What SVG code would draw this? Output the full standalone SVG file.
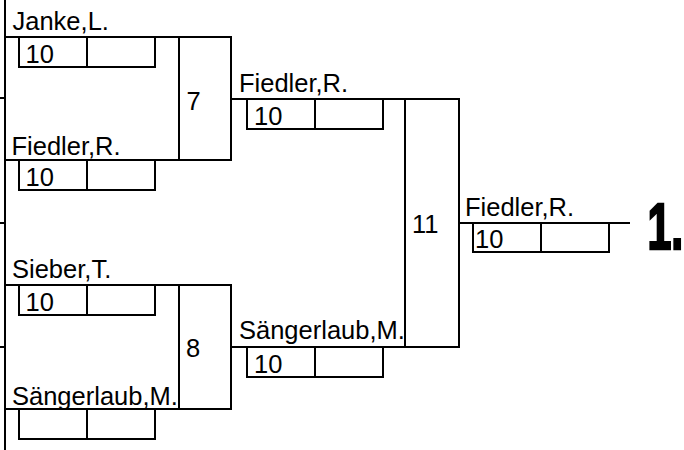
<svg xmlns="http://www.w3.org/2000/svg" width="684" height="450" viewBox="0 0 684 450">
<style>
.ln{stroke:#000;stroke-width:2;fill:none}
.bx{stroke:#000;stroke-width:2;fill:#fff}
.t{font-family:"Liberation Sans",Arial,sans-serif;font-size:25.5px;fill:#000}
.rk{font-family:"Liberation Sans",Arial,sans-serif;font-size:65px;font-weight:bold;fill:#000;stroke:#000;stroke-width:2.5}
</style>
<rect width="684" height="450" fill="#fff"/>
<g id="connectors">
<path class="ln" d="M5 0V450M0 98H5M0 223H5M0 347H5"/>
<path class="ln" d="M5 37H231M5 160H231"/>
<path class="ln" d="M5 285H231M5 409H231"/>
<path class="ln" d="M231 99H459M231 347H459"/>
<path class="ln" d="M459 223H630"/>
</g>
<g id="match7">
<rect class="bx" x="179" y="37" width="52" height="123"/>
<text class="t" x="186.5" y="109.5">7</text>
</g>
<g id="match8">
<rect class="bx" x="179" y="285" width="52" height="124"/>
<text class="t" x="186" y="357">8</text>
</g>
<g id="match11">
<rect class="bx" x="405" y="99" width="54" height="248"/>
<text class="t" x="412" y="233">11</text>
</g>
<g id="p-janke">
<text class="t" x="12.5" y="30">Janke,L.</text>
<rect class="bx" x="19" y="37" width="136" height="30"/><path class="ln" d="M87 37V67"/>
<text class="t" x="25.5" y="63">10</text>
</g>
<g id="p-fiedler1">
<text class="t" x="11.5" y="155">Fiedler,R.</text>
<rect class="bx" x="19" y="160" width="136" height="30"/><path class="ln" d="M87 160V190"/>
<text class="t" x="25.5" y="186">10</text>
</g>
<g id="p-sieber">
<text class="t" x="12" y="278">Sieber,T.</text>
<rect class="bx" x="19" y="285" width="136" height="30"/><path class="ln" d="M87 285V315"/>
<text class="t" x="25.5" y="311">10</text>
</g>
<g id="p-saengerlaub1">
<text class="t" x="12" y="405">Sängerlaub,M.</text>
<rect class="bx" x="19" y="409" width="136" height="30"/><path class="ln" d="M87 409V439"/>
</g>
<g id="p-fiedler2">
<text class="t" x="239" y="92">Fiedler,R.</text>
<rect class="bx" x="247" y="99" width="136" height="30"/><path class="ln" d="M315 99V129"/>
<text class="t" x="254" y="125">10</text>
</g>
<g id="p-saengerlaub2">
<text class="t" x="239" y="339">Sängerlaub,M.</text>
<rect class="bx" x="247" y="347" width="136" height="30"/><path class="ln" d="M315 347V377"/>
<text class="t" x="254" y="373">10</text>
</g>
<g id="p-fiedler3">
<text class="t" x="465" y="216">Fiedler,R.</text>
<rect class="bx" x="473" y="223" width="136" height="29"/><path class="ln" d="M541 223V252"/>
<text class="t" x="475" y="248">10</text>
</g>
<g id="rank">
<text class="rk" transform="matrix(0.66 0 0 1 647.5 249)">1.</text>
</g>
</svg>
